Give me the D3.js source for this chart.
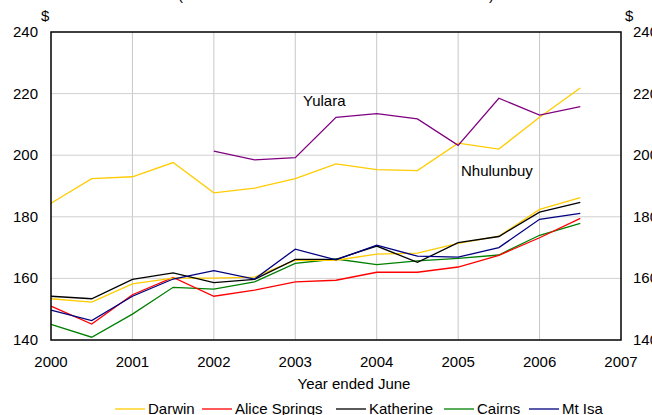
<!DOCTYPE html>
<html>
<head>
<meta charset="utf-8">
<script src="https://cdn.jsdelivr.net/npm/d3@7"></script>
<style>
  body { margin: 0; background: #fff; }
  svg { display: block; font-family: "Liberation Sans", Arial, sans-serif; }
</style>
</head>
<body>
<svg></svg>
<script>
// half-yearly points, 2000 to 2006.5
const periods = [2000, 2000.5, 2001, 2001.5, 2002, 2002.5, 2003, 2003.5, 2004, 2004.5, 2005, 2005.5, 2006, 2006.5];
const yularaPeriods = [2002, 2002.5, 2003, 2003.5, 2004, 2004.5, 2005, 2005.5, 2006, 2006.5];

const darwin    = [153.4, 152.3, 158.2, 160.1, 160.1, 160.4, 165.9, 165.9, 167.9, 168.2, 171.4, 173.7, 182.4, 186.2];
const aliceSprings = [151.0, 145.2, 154.7, 160.3, 154.2, 156.2, 158.9, 159.4, 162.0, 162.0, 163.7, 167.5, 173.2, 179.5];
const katherine = [154.2, 153.4, 159.7, 161.8, 158.6, 159.7, 166.2, 166.2, 170.5, 165.2, 171.6, 173.6, 181.5, 184.7];
const cairns    = [145.1, 140.9, 148.4, 157.1, 156.5, 158.9, 164.9, 166.3, 164.5, 165.7, 166.5, 167.6, 174.0, 177.9];
const mtIsa     = [149.7, 146.3, 154.2, 159.8, 162.5, 159.8, 169.5, 166.0, 170.8, 167.2, 166.9, 170.0, 179.2, 181.1];
const nhulunbuy = [184.4, 192.4, 193.0, 197.6, 187.8, 189.3, 192.4, 197.2, 195.3, 195.0, 203.9, 202.0, 212.3, 221.8];
const yulara    = [201.3, 198.5, 199.2, 212.3, 213.5, 211.8, 203.2, 218.5, 213.0, 215.8];

const xTicks = [2000, 2001, 2002, 2003, 2004, 2005, 2006, 2007];
const yTicks = [140, 160, 180, 200, 220, 240];

const legendNames = ["Darwin", "Alice Springs", "Katherine", "Cairns", "Mt Isa"];

const width = 652, height = 415;
const margin = {top: 32, right: 31, bottom: 75, left: 51};

const svg = d3.select("svg").attr("width", width).attr("height", height);

const x = d3.scaleLinear().domain([2000, 2007]).range([margin.left, width - margin.right]);
const y = d3.scaleLinear().domain([140, 240]).range([height - margin.bottom, margin.top]);

// gridlines
svg.append("g").selectAll("line").data(xTicks.slice(1, -1)).join("line")
  .attr("x1", d => x(d)).attr("x2", d => x(d))
  .attr("y1", y(240)).attr("y2", y(140))
  .attr("stroke", "#c8c8c8").attr("stroke-width", 1);
svg.append("g").selectAll("line").data(yTicks.slice(1, -1)).join("line")
  .attr("x1", x(2000)).attr("x2", x(2007))
  .attr("y1", d => y(d)).attr("y2", d => y(d))
  .attr("stroke", "#d0d0d0").attr("stroke-width", 1);

// series
const series = [
  {name: "Nhulunbuy", xs: periods, vals: nhulunbuy, color: "#ffcc00"},
  {name: "Yulara", xs: yularaPeriods, vals: yulara, color: "#800080"},
  {name: "Cairns", xs: periods, vals: cairns, color: "#008000"},
  {name: "Alice Springs", xs: periods, vals: aliceSprings, color: "#ff0000"},
  {name: "Darwin", xs: periods, vals: darwin, color: "#ffcc00"},
  {name: "Katherine", xs: periods, vals: katherine, color: "#000000"},
  {name: "Mt Isa", xs: periods, vals: mtIsa, color: "#000080"}
];

const line = d3.line().x(d => x(d[0])).y(d => y(d[1]));

svg.append("g").selectAll("path").data(series).join("path")
  .attr("d", s => line(s.xs.map((p, i) => [p, s.vals[i]])))
  .attr("fill", "none")
  .attr("stroke", s => s.color)
  .attr("stroke-width", 1.3);

// frame
svg.append("rect")
  .attr("x", x(2000)).attr("y", y(240))
  .attr("width", x(2007) - x(2000)).attr("height", y(140) - y(240))
  .attr("fill", "none").attr("stroke", "#000").attr("stroke-width", 1.5);

// axes labels
svg.append("g").selectAll("text").data(xTicks).join("text")
  .attr("x", d => x(d)).attr("y", y(140) + 27)
  .attr("text-anchor", "middle").style("font-size", "15px")
  .text(d => d);

svg.append("g").selectAll("text").data(yTicks).join("text")
  .attr("x", x(2000) - 13).attr("y", d => y(d) + 5)
  .attr("text-anchor", "end").style("font-size", "15px")
  .text(d => d);

svg.append("g").selectAll("text").data(yTicks).join("text")
  .attr("x", x(2007) + 12).attr("y", d => y(d) + 5)
  .attr("text-anchor", "start").style("font-size", "15px")
  .text(d => d);

svg.append("text").attr("x", 41).attr("y", 21).style("font-size", "15px").text("$");
svg.append("text").attr("x", 625).attr("y", 21).style("font-size", "15px").text("$");

// cut-off subtitle at the very top
svg.append("text").attr("x", 178).attr("y", 0).style("font-size", "15px").text("(");
svg.append("text").attr("x", 489).attr("y", 0).style("font-size", "15px").text(")");

svg.append("text").attr("x", 354).attr("y", 389)
  .attr("text-anchor", "middle").style("font-size", "15px")
  .text("Year ended June");

// series labels
svg.append("text").attr("x", 303).attr("y", 106).style("font-size", "15px").text("Yulara");
svg.append("text").attr("x", 461).attr("y", 176).style("font-size", "15px").text("Nhulunbuy");

// legend
const legendColors = ["#ffcc00", "#ff0000", "#000000", "#008000", "#000080"];
const legendX = [115, 202, 336, 444, 529];
const legend = svg.append("g").selectAll("g").data(legendNames).join("g")
  .attr("transform", (d, i) => "translate(" + legendX[i] + ",409)");
legend.append("line")
  .attr("x1", 0).attr("x2", 30).attr("y1", 0).attr("y2", 0)
  .attr("stroke", (d, i) => legendColors[i]).attr("stroke-width", 1.3);
legend.append("text")
  .attr("x", 33).attr("y", 5).style("font-size", "15px")
  .text(d => d);
</script>
</body>
</html>
